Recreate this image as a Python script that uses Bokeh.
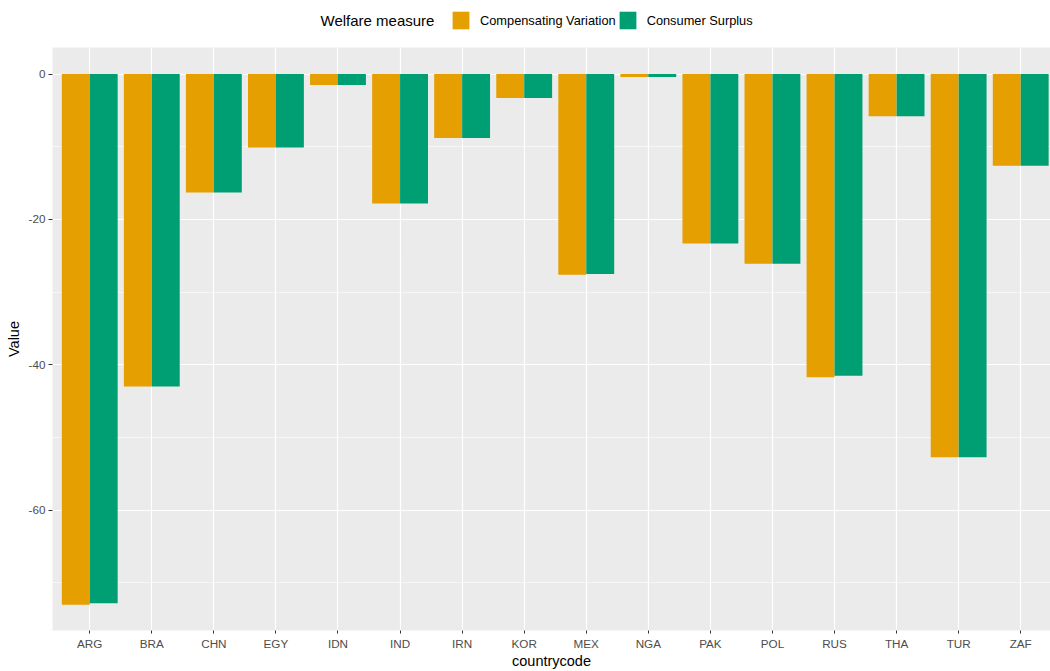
from bokeh.plotting import figure
from bokeh.layouts import column
from bokeh.models import Range1d, FixedTicker, Legend, LegendItem, ColumnDataSource, Label
from bokeh.transform import dodge
from bokeh.embed import file_html
from bokeh.resources import INLINE

countries = ["ARG", "BRA", "CHN", "EGY", "IDN", "IND", "IRN", "KOR",
             "MEX", "NGA", "PAK", "POL", "RUS", "THA", "TUR", "ZAF"]
compensating_variation = [-73.0, -43.0, -16.3, -10.1, -1.5, -17.8, -8.8, -3.3,
                          -27.6, -0.4, -23.3, -26.1, -41.7, -5.8, -52.7, -12.6]
consumer_surplus = [-72.8, -43.0, -16.3, -10.1, -1.5, -17.8, -8.8, -3.3,
                    -27.5, -0.4, -23.3, -26.1, -41.5, -5.8, -52.7, -12.6]
y_major = [0, -20, -40, -60]
y_labels = ["0", "-20", "-40", "-60"]
y_minor = [-10, -30, -50, -70]
legend_title = "Welfare measure"
series_names = ["Compensating Variation", "Consumer Surplus"]
colors = ["#E69F00", "#009E73"]

pos = list(range(1, len(countries) + 1))
src = ColumnDataSource(dict(x=pos, cv=compensating_variation, cs=consumer_surplus,
                            zero=[0] * len(pos)))

FONT = "Liberation Sans"
W = 1050
LEG_H = 47

# ---------- main chart ----------
p = figure(width=W, height=671 - LEG_H, output_backend="svg", toolbar_location=None,
           x_range=Range1d(0.4, 16.48), y_range=Range1d(-76.55, 3.65),
           min_border_left=52, min_border_right=0, min_border_top=0,
           min_border_bottom=39)
p.background_fill_color = "#EBEBEB"
p.border_fill_color = "white"
p.outline_line_color = None

r1 = p.vbar(x=dodge("x", -0.225, range=p.x_range), width=0.45, top="zero", bottom="cv",
            source=src, fill_color=colors[0], line_color=None)
r2 = p.vbar(x=dodge("x", 0.225, range=p.x_range), width=0.45, top="zero", bottom="cs",
            source=src, fill_color=colors[1], line_color=None)

p.xaxis.ticker = FixedTicker(ticks=pos)
p.xaxis.major_label_overrides = {i: c for i, c in zip(pos, countries)}
p.yaxis.ticker = FixedTicker(ticks=y_major, minor_ticks=y_minor)
p.yaxis.major_label_overrides = {v: s for v, s in zip(y_major, y_labels)}
for ax in (p.xaxis, p.yaxis):
    ax.axis_line_color = None
    ax.major_tick_line_color = "#333333"
    ax.major_tick_in = 0
    ax.minor_tick_line_color = None
    ax.major_label_text_font = FONT
    ax.major_label_text_font_size = "11.7px"
    ax.major_label_text_color = "#4D4D4D"
    ax.axis_label_text_font = FONT
    ax.axis_label_text_font_size = "14.5px"
    ax.axis_label_text_font_style = "normal"
    ax.axis_label_text_color = "black"
p.yaxis.major_tick_out = 4
p.yaxis.major_label_standoff = 3
p.yaxis.axis_label_standoff = 4
p.xaxis.major_tick_out = 3
p.xaxis.major_label_standoff = 3
p.xaxis.axis_label_standoff = 0
p.xaxis.axis_label = "countrycode"
p.yaxis.axis_label = "Value"

p.xgrid.ticker = FixedTicker(ticks=pos)
p.xgrid.grid_line_color = "white"
p.xgrid.grid_line_width = 1.2
p.ygrid.ticker = FixedTicker(ticks=y_major, minor_ticks=y_minor)
p.ygrid.grid_line_color = "white"
p.ygrid.grid_line_width = 1.2
p.ygrid.minor_grid_line_color = "white"
p.ygrid.minor_grid_line_width = 0.6

# ---------- legend strip ----------
lg = figure(width=W, height=LEG_H, output_backend="svg", toolbar_location=None,
            x_range=Range1d(0, W), y_range=Range1d(0, LEG_H),
            min_border=0, outline_line_color=None)
lg.axis.visible = False
lg.grid.visible = False
lg.background_fill_color = "white"
lg.border_fill_color = "white"
# hidden swatch renderers (placed outside the visible range) used only for legend keys
k1 = lg.vbar(x=[-500], top=[-500], bottom=[-501], width=1, fill_color=colors[0], line_color=None)
k2 = lg.vbar(x=[-500], top=[-500], bottom=[-501], width=1, fill_color=colors[1], line_color=None)
legend = Legend(items=[LegendItem(label=series_names[0], renderers=[k1]),
                       LegendItem(label=series_names[1], renderers=[k2])],
                orientation="horizontal", location=(398, 16),
                label_text_font=FONT, label_text_font_size="12.8px",
                label_text_color="black",
                glyph_width=21, glyph_height=22, label_standoff=9, spacing=1,
                padding=0, margin=0, border_line_color=None,
                background_fill_alpha=0)
lg.add_layout(legend, "center")
lg.add_layout(Label(x=268, y=27, x_units="screen", y_units="screen",
                    text=legend_title, text_font=FONT, text_font_size="15px",
                    text_color="black", text_baseline="middle", text_align="left"))

layout = column(lg, p, spacing=0)
open("out.html", "w").write(file_html(layout, INLINE))
